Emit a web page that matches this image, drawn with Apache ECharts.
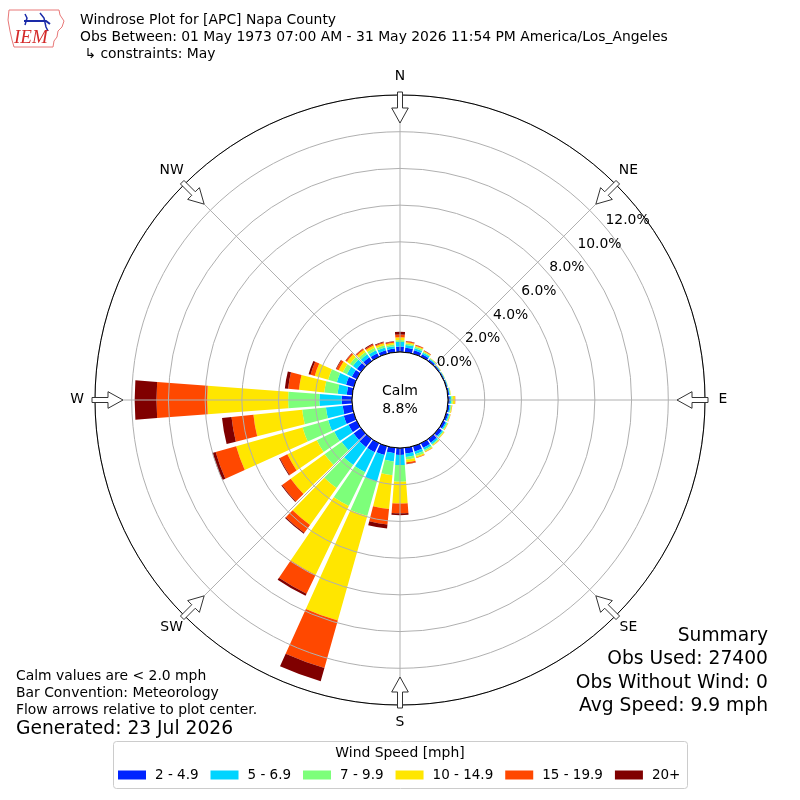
<!DOCTYPE html>
<html><head><meta charset="utf-8">
<script src="https://cdn.jsdelivr.net/npm/echarts@6/dist/echarts.min.js"></script>
<style>html,body{margin:0;padding:0;background:#fff}#c{width:800px;height:800px}</style>
</head><body><div id="c"></div>
<script>
// ---- data (percent of observations) ----
const directions = [0,10,20,30,40,50,60,70,80,90,100,110,120,130,140,150,160,170,180,190,200,210,220,230,240,250,260,270,280,290,300,310,320,330,340,350];
const speedBins = ['2 - 4.9','5 - 6.9','7 - 9.9','10 - 14.9','15 - 19.9','20+'];
const binColors = ['#0024ff','#00d4ff','#7dff7a','#ffe600','#ff4800','#800000'];
const speed2to5   = [0.3,0.25,0.2,0.15,0.1,0.07,0.06,0.06,0.08,0.1,0.1,0.12,0.15,0.2,0.25,0.28,0.3,0.32,0.38,0.3,0.5,0.55,0.55,0.5,0.5,0.57,0.52,0.56,0.3,0.44,0.3,0.28,0.25,0.22,0.2,0.2];
const speed5to7   = [0.25,0.15,0.12,0.1,0.05,0.03,0.03,0.03,0.04,0.08,0.06,0.06,0.07,0.08,0.1,0.12,0.15,0.18,0.55,0.45,1.5,1.2,1.2,0.8,0.86,0.88,0.92,1.22,0.5,0.52,0.3,0.27,0.2,0.18,0.16,0.13];
const speed7to10  = [0.1,0.08,0.08,0.05,0.03,0.02,0.01,0.01,0.03,0.08,0.04,0.04,0.05,0.05,0.06,0.08,0.11,0.14,0.91,0.75,1.95,2.05,1.55,1.15,1.06,1.45,1.3,1.7,0.73,0.49,0.25,0.2,0.15,0.15,0.12,0.09];
const speed10to15 = [0.15,0.07,0.06,0.05,0.02,0.01,0.01,0.01,0.02,0.12,0.04,0.03,0.03,0.04,0.04,0.05,0.08,0.16,1.18,1.85,5.92,4.17,2.47,2.27,1.78,3.76,2.67,4.41,1.39,0.76,0.25,0.2,0.15,0.13,0.12,0.1];
const speed15to20 = [0.15,0.05,0.04,0.03,0.01,0.01,0,0,0,0.02,0.01,0.01,0.01,0.01,0.01,0.02,0.03,0.08,0.54,0.85,2.68,1.13,0.53,0.58,0.45,1.16,1.2,2.76,0.59,0.24,0.14,0.08,0.07,0.07,0.06,0.06];
const speed20plus = [0.15,0.02,0.01,0.01,0,0,0,0,0,0,0,0,0,0,0,0,0,0.02,0.1,0.22,0.75,0.13,0.06,0.05,0.05,0.18,0.52,1.19,0.18,0.11,0.03,0.02,0.03,0.05,0.04,0.02];
const calmPct = 8.8;
const radialMax = 14;
const radialStep = 2;
const compassLabels = ['N','NE','E','SE','S','SW','W','NW'];
const titleLines = ['Windrose Plot for [APC] Napa County','Obs Between: 01 May 1973 07:00 AM - 31 May 2026 11:54 PM America/Los_Angeles',' \u21b3 constraints: May'];
const noteLines = ['Calm values are < 2.0 mph','Bar Convention: Meteorology','Flow arrows relative to plot center.'];
const generatedText = 'Generated: 23 Jul 2026';
const summaryLines = ['Summary','Obs Used: 27400','Obs Without Wind: 0','Avg Speed: 9.9 mph'];
const legendTitle = 'Wind Speed [mph]';

const binValues = [speed2to5, speed5to7, speed7to10, speed10to15, speed15to20, speed20plus];
const FONT = 'DejaVu Sans';
const CX = 400, CY = 400, R0 = 48, R1 = 305;

const chart = echarts.init(document.getElementById('c'), null, {renderer:'canvas'});

// flow arrows (decoration) at the rim, pointing to plot center, plus compass labels
const arrows = [];
const compassTexts = [];
for (let k = 0; k < 8; k++) {
  const th = k * 45 * Math.PI / 180;
  const pts = [[308,-2.5],[292,-2.5],[292,-8.3],[277,0],[292,8.3],[292,2.5],[308,2.5]].map(([s,w]) =>
    [CX + s*Math.sin(th) + w*Math.cos(th), CY - s*Math.cos(th) + w*Math.sin(th)]);
  arrows.push({type:'polygon', z:50, shape:{points:pts}, style:{fill:'#fff', stroke:'#333', lineWidth:1}});
  compassTexts.push({type:'text', z:50, style:{text:compassLabels[k], x:CX + 323*Math.sin(th), y:CY - 1 - 323*Math.cos(th),
    fontSize:13.9, fontFamily:FONT, fill:'#000', align:'center', verticalAlign:'middle'}});
}

const texts = [];
titleLines.forEach((t,i) => texts.push({type:'text', z:50, style:{text:t, x:80, y:20+i*17, fontSize:13.9, fontFamily:FONT, fill:'#000', verticalAlign:'middle'}}));
noteLines.forEach((t,i) => texts.push({type:'text', z:50, style:{text:t, x:16, y:676+i*17, fontSize:13.9, fontFamily:FONT, fill:'#000', verticalAlign:'middle'}}));
texts.push({type:'text', z:50, style:{text:generatedText, x:16, y:729, fontSize:18.7, fontFamily:FONT, fill:'#000', verticalAlign:'middle'}});
summaryLines.forEach((t,i) => texts.push({type:'text', z:50, style:{text:t, x:768, y:636+i*23.4, fontSize:18.7, fontFamily:FONT, fill:'#000', align:'right', verticalAlign:'middle'}}));
texts.push({type:'text', z:50, style:{text:legendTitle, x:400, y:753, fontSize:13.9, fontFamily:FONT, fill:'#000', align:'center', verticalAlign:'middle'}});

// IEM logo (approximation)
const logo = [
  {type:'polygon', z:50, shape:{points:[[9,10],[59,10],[60,15],[64,21],[62,27],[58,31],[57,37],[54,41],[53,47],[14,47],[12,40],[10,31],[8,20]]}, style:{fill:'none', stroke:'#e87878', lineWidth:1}},
  {type:'polyline', z:50, shape:{points:[[24,21],[46,21],[50,24]]}, style:{stroke:'#1a2aa8', lineWidth:2, fill:'none'}},
  {type:'polyline', z:50, shape:{points:[[25,14],[27,18],[25,25]]}, style:{stroke:'#1a2aa8', lineWidth:1.5, fill:'none'}},
  {type:'polyline', z:50, shape:{points:[[40,13],[44,18],[46,27],[48,31]]}, style:{stroke:'#1a2aa8', lineWidth:1.5, fill:'none'}},
  {type:'text', z:50, style:{text:'IEM', x:14, y:38, fontSize:19, fontStyle:'italic', fontFamily:'Liberation Serif', fill:'#d42a2a', verticalAlign:'middle'}}
];

const boxRect = {type:'rect', z:1, shape:{x:113.5, y:741.5, width:574, height:47, r:3}, style:{fill:'#fff', stroke:'#cccccc', lineWidth:1}};

const barSeries = speedBins.map((name,i) => ({
  type:'bar', name, coordinateSystem:'polar', polarIndex:0, stack:'wind',
  data: binValues[i], itemStyle:{color: binColors[i]}, barCategoryGap:'15%', z:1, silent:true
}));

const option = {
  animation:false,
  backgroundColor:'#fff',
  polar:[
    {center:[CX,CY], radius:[R0,R1]},
    {center:[CX,CY], radius:[R0,R1]},
    {center:[CX,CY], radius:[R0,R1]}
  ],
  angleAxis:[
    {polarIndex:0, type:'category', data:directions, startAngle:95, clockwise:true, boundaryGap:true, show:false},
    {polarIndex:1, type:'value', min:0, max:360, interval:45, startAngle:45, clockwise:true, z:3,
     axisLine:{show:true, lineStyle:{color:'#000', width:1}}, axisTick:{show:false}, axisLabel:{show:false},
     splitLine:{show:true, lineStyle:{color:'#b0b0b0', width:1}}},
    {polarIndex:2, type:'value', min:0, max:360, startAngle:40, show:false}
  ],
  radiusAxis:[
    {polarIndex:0, type:'value', min:0, max:radialMax, show:false},
    {polarIndex:1, type:'value', min:0, max:radialMax, interval:radialStep, z:3,
     axisLine:{show:false}, axisTick:{show:false}, axisLabel:{show:false},
     splitLine:{show:true, lineStyle:{color:'#b0b0b0', width:1}}},
    {polarIndex:2, type:'value', min:0, max:radialMax, interval:radialStep, z:3,
     axisLine:{show:false}, axisTick:{show:false}, splitLine:{show:false},
     axisLabel:{show:true, margin:0, align:'left', verticalAlign:'bottom', fontSize:13.9, fontFamily:FONT, color:'#000',
       formatter: v => v >= radialMax ? '' : v.toFixed(1) + '%'}}
  ],
  legend:{left:118, top:768, padding:0, itemWidth:28, itemHeight:9, itemGap:12, icon:'rect', z:10, selectedMode:false,
    textStyle:{fontSize:13.5, fontFamily:FONT, color:'#000', padding:[0,0,0,4]}, data:speedBins},
  graphic:[boxRect, ...arrows, ...compassTexts, ...texts, ...logo],
  series:[
    ...barSeries,
    {type:'pie', center:[CX,CY], radius:[0,R0], z:10, silent:true, clockwise:true,
     data:[{value:calmPct, name:'Calm'}],
     itemStyle:{color:'#fff', borderColor:'#000', borderWidth:1},
     label:{show:true, position:'center', formatter:'Calm\n' + calmPct.toFixed(1) + '%', fontSize:14, lineHeight:18, fontFamily:FONT, color:'#000'},
     labelLine:{show:false}, emphasis:{disabled:true}}
  ]
};
chart.setOption(option);
</script></body></html>
